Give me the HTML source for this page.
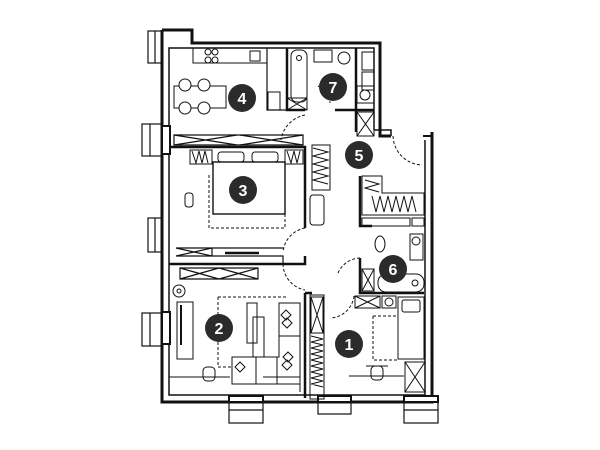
<!DOCTYPE html>
<html><head><meta charset="utf-8"><style>
html,body{margin:0;padding:0;background:#fff}
svg{display:block}
text{font-family:"Liberation Sans",sans-serif;font-weight:bold;fill:#fff;text-anchor:middle}
</style></head><body>
<svg width="600" height="450" viewBox="0 0 600 450" xmlns="http://www.w3.org/2000/svg">
<g fill="none" stroke="#111">
<path d="M162,30 H192 V43 H380 V136 H391" stroke-width="3"/>
<path d="M432,132 V402 H162 V30" stroke-width="3"/>
<path d="M423,136 H432" stroke-width="2"/>
<path d="M169,62 V395 H425 V140" stroke-width="1.5"/>
<path d="M169,62 V48 H374 V130" stroke-width="1.5"/>
<path d="M374,130 H391 V136" stroke-width="1.5"/>
<g stroke-width="1.2">
<rect x="148" y="31" width="14" height="32"/><line x1="155" y1="31" x2="155" y2="63"/>
<rect x="142" y="124" width="20" height="32"/><line x1="150" y1="124" x2="150" y2="156"/>
<rect x="148" y="218" width="14" height="34"/><line x1="155" y1="218" x2="155" y2="252"/>
<rect x="142" y="313" width="20" height="33"/><line x1="150" y1="313" x2="150" y2="346"/>
<rect x="229" y="402" width="34" height="21"/><line x1="229" y1="410" x2="263" y2="410"/>
<rect x="318" y="402" width="33" height="12"/>
<rect x="404" y="402" width="34" height="21"/><line x1="404" y1="410" x2="438" y2="410"/>
</g>
<g stroke-width="2" fill="#fff">
<rect x="162" y="126" width="8" height="28"/>
<rect x="162" y="312" width="8" height="32"/>
<rect x="229" y="396" width="34" height="6"/>
<rect x="318" y="396" width="33" height="6"/>
<rect x="404" y="396" width="34" height="6"/>
</g>
<g stroke-width="2.5">
<path d="M169,147 H305 V228"/>
<path d="M169,264 H305 V256"/>
<path d="M305,293 V398"/>
<path d="M287,48 V110 H305"/>
<path d="M335,110 H374"/>
<path d="M356,48 V132"/>
<path d="M360,176 V226 H372"/>
<path d="M360,258 V293 H424"/>
<path d="M305,293 H312"/>
</g>
<g stroke-width="1.2">
<path d="M267,48 V110 H287"/>
<path d="M174,135 H303 V145 H174 Z"/><path d="M174,135 L237,145 M237,135 L174,145 M240,135 L303,145 M303,135 L240,145"/>
<path d="M176,256 H283 V264"/><path d="M176,248 H283"/><line x1="212" y1="248" x2="212" y2="256"/>
<path d="M176,248 L212,256 M212,248 L176,256"/><path d="M225,253 H259" stroke-width="2.5"/>
<path d="M180,268 H258 V279 H180 Z M180,268 L219,279 M219,268 L180,279 M219,268 L258,279 M258,268 L219,279"/>
</g>
<g stroke-width="1">
<rect x="193" y="48" width="74" height="15"/>
<circle cx="208" cy="52" r="3"/><circle cx="215" cy="52" r="3"/><circle cx="208" cy="60" r="3"/><circle cx="215" cy="60" r="3"/>
<rect x="250" y="51" width="10" height="10"/>
<rect x="268" y="92" width="12" height="18"/>
<rect x="174" y="86" width="52" height="22"/>
<circle cx="185" cy="85" r="6" fill="#fff"/><circle cx="204" cy="85" r="6" fill="#fff"/>
<circle cx="185" cy="108" r="6" fill="#fff"/><circle cx="204" cy="108" r="6" fill="#fff"/>
<rect x="291" y="50" width="16" height="52" rx="6"/><circle cx="299" cy="58" r="2.5"/>
<rect x="287" y="98" width="20" height="12"/><path d="M287,98 L307,110 M307,98 L287,110"/>
<rect x="314" y="50" width="18" height="12"/><circle cx="344" cy="58" r="6"/>
<rect x="362" y="52" width="12" height="18"/><rect x="362" y="72" width="12" height="18"/>
<rect x="357" y="86" width="17" height="17"/><circle cx="365" cy="95" r="5"/>
<rect x="357" y="112" width="17" height="24"/><path d="M357,112 L374,136 M374,112 L357,136"/>
<rect x="190" y="150" width="22" height="14"/><rect x="285" y="150" width="18" height="14"/>
<path d="M192,151 l4,12 l3,-12 l3,12 l3,-12 l3,12 M287,151 l4,12 l3,-12 l3,12 l3,-12"/>
<rect x="213" y="162" width="72" height="52" stroke-width="1.4"/>
<rect x="218" y="152" width="26" height="10" rx="3"/><rect x="252" y="152" width="26" height="10" rx="3"/>
<path d="M209,175 V228 H285 V175" stroke-dasharray="3,2"/>
<rect x="185" y="193" width="8" height="14" rx="3"/>
<rect x="312" y="145" width="18" height="45"/>
<path d="M313,148 l15,4 l-15,4 l15,4 l-15,4 l15,4 l-15,4 l15,4 l-15,4 l15,4"/>
<rect x="310" y="195" width="14" height="30" rx="3"/>
<path d="M362,176 H382 V193 H424 V215 H362 Z"/>
<path d="M365,180 l14,4 l-14,4 l14,4 M372,196 l4,16 l4,-16 l4,16 l4,-16 l4,16 l4,-16 l4,16 l4,-16 l4,16 l4,-16 l4,16"/>
<rect x="362" y="218" width="48" height="8"/><rect x="412" y="218" width="12" height="8"/>
<ellipse cx="380" cy="244" rx="5" ry="8"/>
<rect x="410" y="234" width="13" height="26"/><circle cx="416" cy="241" r="4"/>
<rect x="378" y="274" width="46" height="18" rx="8"/><circle cx="415" cy="283" r="3"/>
<rect x="362" y="269" width="12" height="22"/><path d="M362,269 L374,291 M374,269 L362,291"/>
<rect x="355" y="296" width="25" height="12"/><path d="M355,296 L380,308 M380,296 L355,308"/>
<rect x="382" y="296" width="14" height="12"/><circle cx="389" cy="302" r="4"/>
<rect x="398" y="297" width="26" height="62"/><rect x="402" y="300" width="18" height="12" rx="2"/>
<path d="M373,316 H398 M373,316 V360 H398" stroke-dasharray="3,2"/>
<rect x="405" y="362" width="20" height="30"/><path d="M405,362 L425,392 M425,362 L405,392"/>
<rect x="371" y="366" width="12" height="14" rx="4"/><line x1="366" y1="366" x2="388" y2="366"/>
<path d="M349,376 H404"/>
<rect x="310" y="295" width="14" height="104"/>
<rect x="311" y="297" width="12" height="36"/><path d="M311,297 L323,333 M323,297 L311,333"/>
<path d="M311,336 l12,3 l-12,3 l12,3 l-12,3 l12,3 l-12,3 l12,3 l-12,3 l12,3 l-12,3 l12,3 l-12,3 l12,3 l-12,3 l12,3 l-12,3 l12,3"/>
<circle cx="179" cy="291" r="6"/><circle cx="179" cy="291" r="2"/>
<rect x="177" y="302" width="16" height="57"/><line x1="181" y1="305" x2="181" y2="345" stroke-width="2"/>
<path d="M218,297 H288 M218,297 V367 H232" stroke-dasharray="3,2"/>
<rect x="247" y="303" width="10" height="40"/><rect x="253" y="317" width="11" height="40"/>
<path d="M279,303 H300 V384 H232 V357 H279 Z"/>
<line x1="279" y1="336" x2="300" y2="336"/><line x1="256" y1="357" x2="256" y2="384"/><line x1="277" y1="357" x2="277" y2="384"/>
<path d="M286,310 l5,5 l-5,5 l-5,-5z M287,318 l5,5 l-5,5 l-5,-5z M288,352 l5,5 l-5,5 l-5,-5z M287,360 l5,5 l-5,5 l-5,-5z M240,362 l5,5 l-5,5 l-5,-5z"/>
<rect x="203" y="367" width="12" height="14" rx="4"/>
<path d="M169,377 H230 M263,377 H300 V392"/>
<g stroke-dasharray="3,2">
<path d="M305,115 A30,30 0 0 0 281,140"/>
<path d="M318,86 A20,20 0 0 1 330,103"/>
<path d="M393,136 A30,30 0 0 0 422,165"/>
<path d="M305,228 A27,27 0 0 0 283,252"/>
<path d="M283,264 A27,27 0 0 0 305,290"/>
<path d="M360,258 A25,25 0 0 0 338,273"/>
<path d="M354,296 A25,25 0 0 1 331,318"/>
</g>
</g>
</g>
<g>
<circle cx="242" cy="98" r="14" fill="#2b2b2b"/><text x="242" y="104" font-size="16">4</text>
<circle cx="333" cy="87" r="14" fill="#2b2b2b"/><text x="333" y="93" font-size="16">7</text>
<circle cx="359" cy="155" r="14" fill="#2b2b2b"/><text x="359" y="161" font-size="16">5</text>
<circle cx="243" cy="190" r="14" fill="#2b2b2b"/><text x="243" y="196" font-size="16">3</text>
<circle cx="393" cy="269" r="14" fill="#2b2b2b"/><text x="393" y="275" font-size="16">6</text>
<circle cx="219" cy="328" r="14" fill="#2b2b2b"/><text x="219" y="334" font-size="16">2</text>
<circle cx="349" cy="344" r="14" fill="#2b2b2b"/><text x="349" y="350" font-size="16">1</text>
</g>
</svg>
</body></html>
